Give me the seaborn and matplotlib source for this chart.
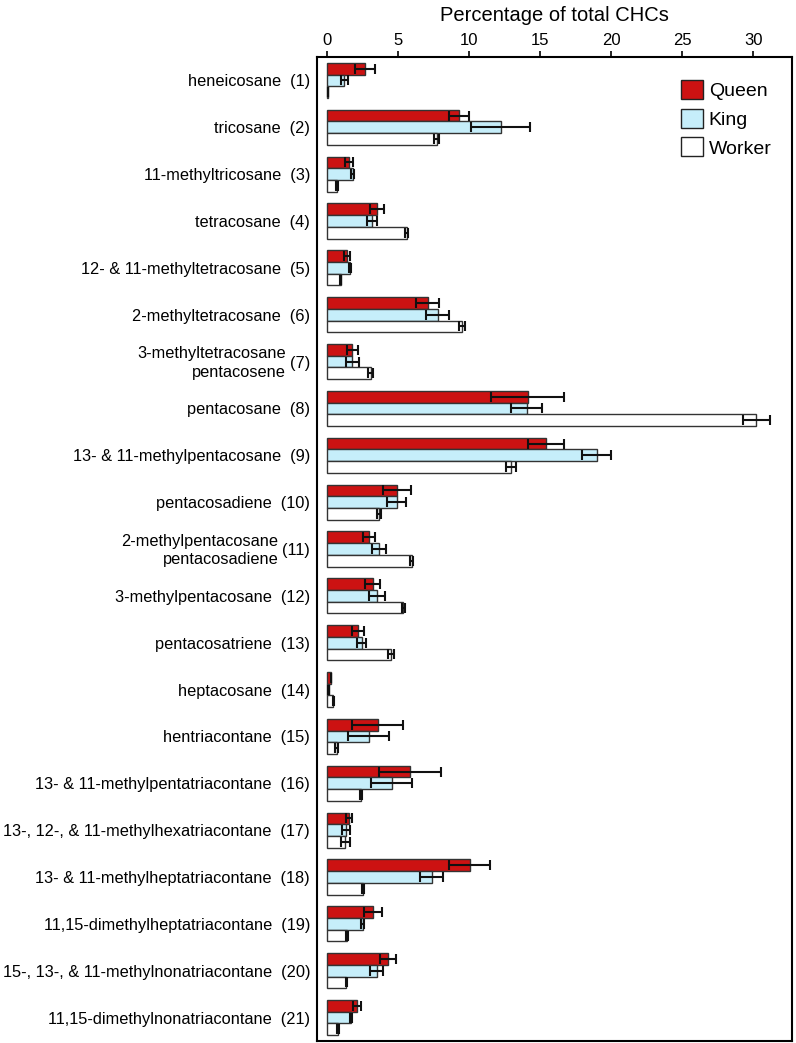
import matplotlib
matplotlib.use("Agg")
import matplotlib.pyplot as plt
from matplotlib.patches import Patch
import numpy as np
import pandas as pd
import seaborn as sns

# compound names (two-line names use \n), numbered 1..21
compounds = [
    "heneicosane", "tricosane", "11-methyltricosane", "tetracosane",
    "12- & 11-methyltetracosane", "2-methyltetracosane",
    "3-methyltetracosane\npentacosene", "pentacosane",
    "13- & 11-methylpentacosane", "pentacosadiene",
    "2-methylpentacosane\npentacosadiene", "3-methylpentacosane",
    "pentacosatriene", "heptacosane", "hentriacontane",
    "13- & 11-methylpentatriacontane", "13-, 12-, & 11-methylhexatriacontane",
    "13- & 11-methylheptatriacontane", "11,15-dimethylheptatriacontane",
    "15-, 13-, & 11-methylnonatriacontane", "11,15-dimethylnonatriacontane",
]
castes = ["Queen", "King", "Worker"]

queen = [2.65, 9.27, 1.55, 3.48, 1.37, 7.07, 1.76, 14.1, 15.4, 4.89, 2.94,
         3.2, 2.18, 0.26, 3.55, 5.82, 1.55, 10.03, 3.2, 4.25, 2.07]
queen_err = [0.7, 0.7, 0.27, 0.5, 0.2, 0.8, 0.4, 2.6, 1.3, 1.0, 0.39,
             0.54, 0.43, 0.03, 1.8, 2.16, 0.2, 1.43, 0.62, 0.56, 0.28]
king = [1.2, 12.2, 1.79, 3.13, 1.6, 7.77, 1.76, 14.05, 18.97, 4.89, 3.64,
        3.48, 2.42, 0.1, 2.92, 4.53, 1.32, 7.35, 2.49, 3.48, 1.65]
king_err = [0.23, 2.05, 0.1, 0.35, 0.1, 0.8, 0.47, 1.1, 1.0, 0.67, 0.48,
            0.56, 0.33, 0.02, 1.45, 1.47, 0.27, 0.8, 0.12, 0.47, 0.07]
worker = [0.05, 7.7, 0.7, 5.59, 0.94, 9.5, 3.05, 30.2, 12.94, 3.66, 5.94,
          5.35, 4.49, 0.42, 0.66, 2.37, 1.27, 2.51, 1.39, 1.35, 0.77]
worker_err = [0.02, 0.2, 0.05, 0.1, 0.05, 0.2, 0.15, 0.95, 0.37, 0.15, 0.08,
              0.12, 0.22, 0.02, 0.12, 0.06, 0.3, 0.06, 0.05, 0.05, 0.05]

colors = {"Queen": "#cc1212", "King": "#c6eefa", "Worker": "#ffffff"}

sns.set_style("white")
plt.rcParams["font.family"] = ["Liberation Sans", "DejaVu Sans"]
plt.rcParams["text.color"] = "black"
plt.rcParams["xtick.color"] = "black"
plt.rcParams["ytick.color"] = "black"
plt.rcParams["axes.labelcolor"] = "black"

df = pd.DataFrame({
    "compound": compounds * 3,
    "caste": np.repeat(castes, len(compounds)),
    "value": queen + king + worker,
})

fig = plt.figure(figsize=(7.96, 10.43), dpi=100)
ax = fig.add_axes([0.3982, 0.0019, 0.5974, 0.9434])

sns.barplot(data=df, y="compound", x="value", hue="caste", hue_order=castes,
            palette=colors, saturation=1, orient="h", width=0.75, gap=0,
            errorbar=None, edgecolor="#333333", linewidth=1, legend=False, ax=ax)

# error bars on each bar, from the bars seaborn drew
for cont, errs in zip(ax.containers, [queen_err, king_err, worker_err]):
    ys = [b.get_y() + b.get_height() / 2 for b in cont]
    xs = [b.get_width() for b in cont]
    ax.errorbar(xs, ys, xerr=errs, fmt="none", ecolor="#111111",
                elinewidth=1.5, capsize=3.6, capthick=1.5, zorder=5)

ax.set_xlim(-0.725, 32.76)
ax.set_ylim(20.5, -0.5)
ax.xaxis.tick_top()
ax.xaxis.set_label_position("top")
ax.set_xticks([0, 5, 10, 15, 20, 25, 30])
ax.tick_params(axis="x", labelsize=12, length=4.5, width=1.2, pad=2,
               direction="out", top=True, bottom=False)
ax.set_xlabel("Percentage of total CHCs", fontsize=14.5, labelpad=9)
ax.set_ylabel("")

labels = []
for i, name in enumerate(compounds):
    num = f"({i + 1})"
    labels.append(num if "\n" in name else f"{name}  {num}")
ax.set_yticks(range(len(compounds)))
ax.set_yticklabels(labels, fontsize=11.8)
ax.tick_params(axis="y", length=0, pad=5)

for s in ax.spines.values():
    s.set_visible(True)
    s.set_color("black")
    s.set_linewidth(1.5)

handles = [Patch(facecolor=colors[c], edgecolor="#222222", linewidth=1) for c in castes]
ax.legend(handles, castes, loc="upper left", bbox_to_anchor=(0.7655, 0.977),
          frameon=False, fontsize=14, handlelength=1.13, handleheight=1.13,
          handletextpad=0.3, labelspacing=0.45, borderpad=0, borderaxespad=0)

# two-line names sit to the left of their number
fig.canvas.draw()
for i, (name, tl) in enumerate(zip(compounds, ax.get_yticklabels())):
    if "\n" in name:
        bb = tl.get_window_extent()
        ax.text(bb.x0 - 4, (bb.y0 + bb.y1) / 2, name, transform=None,
                ha="right", va="center", multialignment="right",
                fontsize=11.8, linespacing=1.3)

fig.savefig("out.png", dpi=100)
